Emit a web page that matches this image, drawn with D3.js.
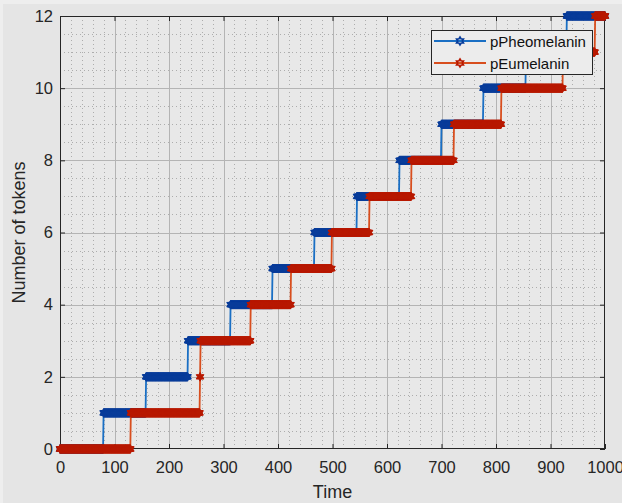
<!DOCTYPE html>
<html><head><meta charset="utf-8">
<script src="https://cdn.jsdelivr.net/npm/d3@7/dist/d3.min.js"></script>
<style>html,body{margin:0;padding:0;background:#e5e5e5;} svg{display:block;}</style>
</head><body>
<svg id="chart" width="622" height="503"></svg>
<script>
// ---- data ----
const seriesNames = ["pPheomelanin", "pEumelanin"];
// times at which each series gains one token
const pPheomelaninSteps = [80, 158, 235, 313, 390, 467, 545, 623, 700, 777, 855, 930];
const pEumelaninSteps   = [130, 257, 258, 350, 424, 499, 568, 645, 723, 810, 923, 982];
const timeStart = 0, timeEnd = 1000, timeStep = 1;
const xTickValues = [0, 100, 200, 300, 400, 500, 600, 700, 800, 900, 1000];
const yTickValues = [0, 2, 4, 6, 8, 10, 12];
const xLabel = "Time";
const yLabel = "Number of tokens";

// ---- styles ----
const FONT = "'Liberation Sans', Arial, Helvetica, sans-serif";
const colors = {
  pPheomelanin: { line: "#1a6fc4", marker: "#083c9a" },
  pEumelanin:   { line: "#d84e1e", marker: "#b81800" }
};

const svg = d3.select("#chart");
const W = 622, H = 503;
const L = 60, R = 605, T = 16, B = 449;

svg.append("rect").attr("width", W).attr("height", H).attr("fill", "#eeeeee");
svg.append("rect").attr("x", 3).attr("y", 4).attr("width", W - 3).attr("height", H - 4).attr("fill", "#e5e5e5");

const x = d3.scaleLinear().domain([0, 1000]).range([L, R]);
const y = d3.scaleLinear().domain([0, 12]).range([B, T]);

// axes background
svg.append("rect").attr("x", L).attr("y", T).attr("width", R - L).attr("height", B - T).attr("fill", "#e8e8e8");

// minor grid
const gMinor = svg.append("g").attr("stroke", "#adadad").attr("stroke-width", 1).attr("stroke-dasharray", "1,3");
x.ticks(50).filter(v => v % 100 !== 0).forEach(v => {
  gMinor.append("line").attr("x1", Math.round(x(v)) + 0.5).attr("x2", Math.round(x(v)) + 0.5).attr("y1", T).attr("y2", B);
});
y.ticks(24).filter(v => v % 2 !== 0).forEach(v => {
  gMinor.append("line").attr("y1", Math.round(y(v)) + 0.5).attr("y2", Math.round(y(v)) + 0.5).attr("x1", L).attr("x2", R);
});
// major grid
const gMajor = svg.append("g").attr("stroke", "#b4b4b4").attr("stroke-width", 1);
xTickValues.slice(1, -1).forEach(v => {
  gMajor.append("line").attr("x1", Math.round(x(v)) + 0.5).attr("x2", Math.round(x(v)) + 0.5).attr("y1", T).attr("y2", B);
});
yTickValues.slice(1, -1).forEach(v => {
  gMajor.append("line").attr("y1", Math.round(y(v)) + 0.5).attr("y2", Math.round(y(v)) + 0.5).attr("x1", L).attr("x2", R);
});

// axes
function styleAxis(g) {
  g.selectAll(".domain").remove();
  g.selectAll(".tick line").attr("stroke", "#262626");
  g.selectAll("text").attr("fill", "#262626").style("font-family", FONT).style("font-size", "16.5px");
}
svg.append("g").attr("transform", `translate(0,${B})`)
  .call(d3.axisBottom(x).tickValues(xTickValues).tickSizeInner(-5).tickSizeOuter(0).tickPadding(12).tickFormat(d3.format("d")))
  .call(styleAxis);
svg.append("g").attr("transform", `translate(0,${T})`)
  .call(d3.axisTop(x).tickValues(xTickValues).tickSizeInner(-5).tickSizeOuter(0).tickFormat(""))
  .call(styleAxis);
svg.append("g").attr("transform", `translate(${L},0)`)
  .call(d3.axisLeft(y).tickValues(yTickValues).tickSizeInner(-5).tickSizeOuter(0).tickPadding(7).tickFormat(d3.format("d")))
  .call(styleAxis);
svg.append("g").attr("transform", `translate(${R},0)`)
  .call(d3.axisRight(y).tickValues(yTickValues).tickSizeInner(-5).tickSizeOuter(0).tickFormat(""))
  .call(styleAxis);

svg.append("rect").attr("x", L + 0.5).attr("y", T + 0.5).attr("width", R - L - 1).attr("height", B - T - 1)
  .attr("fill", "none").attr("stroke", "#262626").attr("stroke-width", 1);

// labels
svg.append("text").attr("x", (L + R) / 2).attr("y", 498).attr("text-anchor", "middle")
  .style("font-family", FONT).style("font-size", "18px").attr("fill", "#262626").text(xLabel);
svg.append("text").attr("transform", `translate(25,${(T + B) / 2}) rotate(-90)`).attr("text-anchor", "middle")
  .style("font-family", FONT).style("font-size", "18px").attr("fill", "#262626").text(yLabel);

// hexagram marker
function hexagram(r) {
  const pts = [];
  for (let i = 0; i < 12; i++) {
    const a = (-90 + i * 30) * Math.PI / 180;
    const rr = i % 2 === 0 ? r : r / Math.sqrt(3);
    pts.push([rr * Math.cos(a), rr * Math.sin(a)]);
  }
  return "M" + pts.map(p => p[0].toFixed(2) + "," + p[1].toFixed(2)).join("L") + "Z";
}
const markerPath = hexagram(4.4);

// series
const times = d3.range(timeStart, timeEnd + timeStep, timeStep);
const seriesSteps = { pPheomelanin: pPheomelaninSteps, pEumelanin: pEumelaninSteps };
const line = d3.line().x(d => x(d.t)).y(d => y(d.v));

seriesNames.forEach(name => {
  const steps = seriesSteps[name];
  const data = times.map(t => ({ t, v: steps.filter(s => s <= t).length }));
  const g = svg.append("g");
  g.append("path").datum(data).attr("d", line).attr("fill", "none")
    .attr("stroke", colors[name].line).attr("stroke-width", 1.8);
  g.selectAll("path.m").data(data).join("path").attr("class", "m")
    .attr("transform", d => `translate(${x(d.t)},${y(d.v)})`)
    .attr("d", markerPath).attr("fill", colors[name].marker)
    .attr("stroke", colors[name].marker).attr("stroke-width", 1);
});

// legend
const lg = svg.append("g");
lg.append("rect").attr("x", 431.5).attr("y", 30.5).attr("width", 161).attr("height", 44)
  .attr("fill", "#ececec").attr("stroke", "#262626").attr("stroke-width", 1);
seriesNames.forEach((name, i) => {
  const cy = 41 + i * 22;
  lg.append("line").attr("x1", 434).attr("x2", 486).attr("y1", cy).attr("y2", cy)
    .attr("stroke", colors[name].line).attr("stroke-width", 1.8);
  lg.append("path").attr("transform", `translate(460,${cy})`).attr("d", hexagram(4))
    .attr("fill", "none").attr("stroke", colors[name].marker).attr("stroke-width", 1.6);
  lg.append("text").attr("x", 490).attr("y", cy + 5.5)
    .style("font-family", FONT).style("font-size", "15px").attr("fill", "#111").text(name);
});
</script>
</body></html>
